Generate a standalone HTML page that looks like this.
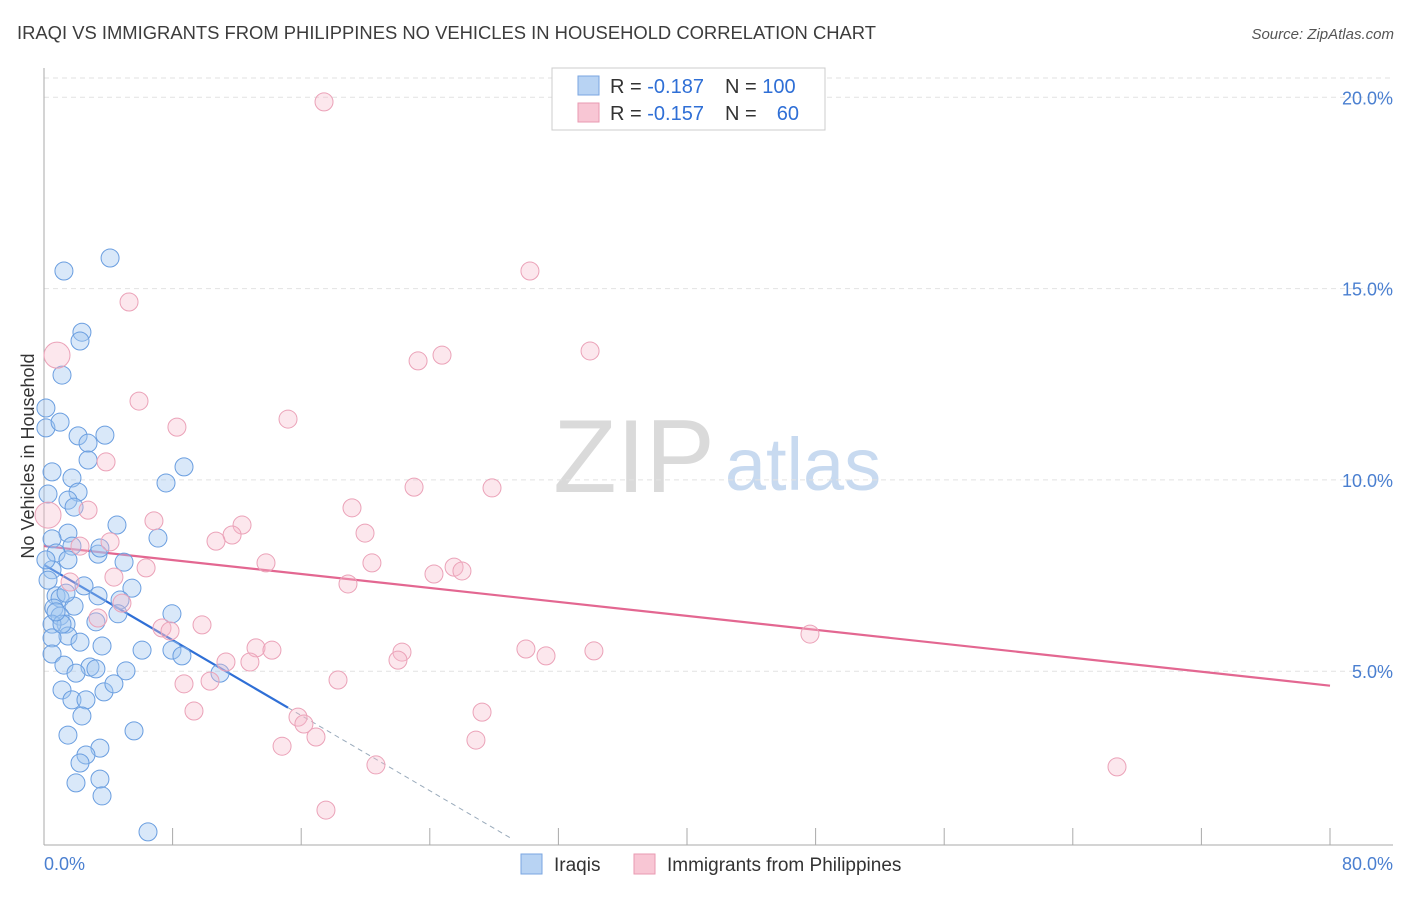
<!DOCTYPE html>
<html><head><meta charset="utf-8"><style>
body{margin:0;background:#fff;font-family:"Liberation Sans",sans-serif;}
svg text{font-family:"Liberation Sans",sans-serif;}
</style></head><body>
<svg id="chart" width="1406" height="892" xmlns="http://www.w3.org/2000/svg">
<text x="17" y="39" font-size="18.3" fill="#3c3c3c" textLength="859" lengthAdjust="spacingAndGlyphs">IRAQI VS IMMIGRANTS FROM PHILIPPINES NO VEHICLES IN HOUSEHOLD CORRELATION CHART</text>
<text x="1394" y="39" font-size="15" fill="#555" font-style="italic" text-anchor="end">Source: ZipAtlas.com</text>
<text transform="translate(34,456) rotate(-90)" font-size="18" fill="#333" text-anchor="middle">No Vehicles in Household</text>
<g>
<text x="634" y="492" font-size="104" fill="#dadada" font-family="Liberation Serif" text-anchor="middle">ZIP</text>
<text x="803" y="490" font-size="74" fill="#c8daf0" text-anchor="middle">atlas</text>
</g>
<g id="grid"></g><g id="axes"></g><g id="lines"></g><g id="pts"></g>
<g>
<rect x="552" y="68" width="273" height="62" fill="#fff" stroke="#ccc"/>
<rect x="578" y="76" width="21" height="19" fill="#b8d3f3" stroke="#7aa6e0"/>
<rect x="578" y="103" width="21" height="19" fill="#f8c6d4" stroke="#e99ab2"/>
<text x="610" y="93" font-size="20" fill="#333">R = <tspan fill="#2f6fd6">-0.187</tspan></text>
<text x="725" y="93" font-size="20" fill="#333">N = <tspan fill="#2f6fd6">100</tspan></text>
<text x="610" y="120" font-size="20" fill="#333">R = <tspan fill="#2f6fd6">-0.157</tspan></text>
<text x="725" y="120" font-size="20" fill="#333">N = </text>
<text x="799" y="120" font-size="20" fill="#2f6fd6" text-anchor="end">60</text>
</g>
<g>
<rect x="521" y="854" width="21" height="20" fill="#b8d3f3" stroke="#7aa6e0"/>
<text x="554" y="871" font-size="19" fill="#333">Iraqis</text>
<rect x="634" y="854" width="21" height="20" fill="#f8c6d4" stroke="#e99ab2"/>
<text x="667" y="871" font-size="19" fill="#333">Immigrants from Philippines</text>
</g>
</svg>
<script>
const yTicks=[5,10,15,20];
const yTickLabels=["5.0%","10.0%","15.0%","20.0%"];
const blueX=[4.11,1.24,2.36,2.24,1.12,0.12,0.12,1.00,2.12,2.74,3.79,2.74,8.71,7.59,0.50,1.74,0.25,2.12,1.49,1.87,4.54,1.49,7.09,0.50,1.74,3.36,0.75,1.49,4.98,0.50,2.49,5.47,0.75,3.36,4.73,1.00,0.62,1.87,7.96,4.60,1.00,1.37,0.50,3.23,1.49,0.50,2.24,3.61,6.10,7.96,8.58,0.50,1.24,2.86,3.23,5.10,1.99,10.95,1.12,3.73,4.35,1.74,2.61,2.36,5.60,1.49,3.48,2.61,2.24,1.99,3.48,3.61,6.47,0.12,3.48,1.12,1.37,0.25,0.75];
const blueY=[15.80,15.46,13.86,13.63,12.74,11.88,11.36,11.51,11.15,10.96,11.17,10.52,10.34,9.92,10.21,10.05,9.63,9.68,9.47,9.29,8.82,8.61,8.48,8.46,8.27,8.06,8.09,7.91,7.85,7.65,7.23,7.17,6.97,6.97,6.86,6.91,6.65,6.70,6.50,6.50,6.44,6.23,6.23,6.29,5.92,5.87,5.76,5.66,5.55,5.55,5.40,5.45,5.16,5.11,5.06,5.01,4.95,4.95,4.51,4.46,4.67,4.25,4.25,3.83,3.44,3.33,2.99,2.81,2.60,2.08,2.18,1.74,0.80,7.91,8.22,6.23,7.04,7.38,6.55];
const pinkX=[17.42,30.23,5.29,0.81,33.97,24.76,23.27,5.91,15.18,8.27,3.86,23.02,27.87,19.16,2.74,0.25,6.84,12.32,19.97,11.70,10.70,2.24,4.11,13.81,6.35,20.40,25.51,26.00,24.26,4.35,18.91,1.62,4.85,3.36,9.83,7.34,7.84,47.65,29.98,31.23,34.21,13.19,22.27,22.02,14.18,11.32,12.81,8.71,10.33,18.29,9.33,15.80,16.17,16.92,27.25,26.87,14.81,20.65,66.75,17.54];
const pinkY=[19.88,15.46,14.65,13.26,13.37,13.26,13.11,12.06,11.59,11.38,10.47,9.81,9.79,9.27,9.21,9.08,8.93,8.82,8.61,8.56,8.40,8.27,8.38,7.83,7.70,7.83,7.72,7.62,7.54,7.46,7.28,7.33,6.78,6.39,6.21,6.13,6.05,5.97,5.58,5.40,5.53,5.61,5.50,5.29,5.55,5.24,5.24,4.67,4.74,4.77,3.96,3.80,3.62,3.28,3.93,3.20,3.04,2.55,2.50,1.37];
const blueFit=[7.78,-0.246];
const pinkFit=[8.27,-0.0456];
const ns="http://www.w3.org/2000/svg";
const X=v=>44+v*16.075, Y=v=>862.5-v*38.26;
function mk(p,t,a){const e=document.createElementNS(ns,t);for(const k in a)e.setAttribute(k,a[k]);p.appendChild(e);return e;}
const grid=document.getElementById('grid'),axes=document.getElementById('axes'),lines=document.getElementById('lines'),pts=document.getElementById('pts');
mk(grid,'line',{x1:44,x2:1393,y1:78,y2:78,stroke:'#e2e2e2','stroke-dasharray':'5,4'});
yTicks.forEach((t,i)=>{
 const g=mk(grid,'line',{x1:44,x2:1393,y1:Y(t),y2:Y(t),stroke:'#e2e2e2','stroke-dasharray':'5,4'});
 
 
 const tx=mk(axes,'text',{x:1393,y:Y(t)+7,'font-size':18,fill:'#4a7fd0','text-anchor':'end'});tx.textContent=yTickLabels[i];
 
 
});
mk(axes,'line',{x1:44,x2:44,y1:68,y2:845,stroke:'#aaa'});
mk(axes,'line',{x1:44,x2:1393,y1:845,y2:845,stroke:'#aaa'});
for(let k=1;k<=10;k++){mk(axes,'line',{x1:X(k*8),x2:X(k*8),y1:828,y2:845,stroke:'#aaa'});}
let t0=mk(axes,'text',{x:44,y:870,'font-size':18,fill:'#4a7fd0'});t0.textContent='0.0%';


let t1=mk(axes,'text',{x:1393,y:870,'font-size':18,fill:'#4a7fd0','text-anchor':'end'});t1.textContent='80.0%';


blueX.forEach((x,i)=>{const c=mk(pts,'circle',{cx:X(x),cy:Y(blueY[i]),r:9,fill:'rgba(160,198,240,0.4)',stroke:'#6a9ee0','stroke-width':1});
 
 });
pinkX.forEach((x,i)=>{const big=(i==3||i==15);const c=mk(pts,'circle',{cx:X(x),cy:Y(pinkY[i]),r:big?13:9,fill:'rgba(247,185,202,0.35)',stroke:'#eba2b8','stroke-width':1});
 
 });
const bEnd=15.18;
let l1=mk(lines,'line',{x1:X(0),y1:Y(blueFit[0]),x2:X(bEnd),y2:Y(blueFit[0]+blueFit[1]*bEnd),stroke:'#2f6fd6','stroke-width':2.2});


let l2=mk(lines,'line',{x1:X(bEnd),y1:Y(blueFit[0]+blueFit[1]*bEnd),x2:X(29.1),y2:Y(blueFit[0]+blueFit[1]*29.1),stroke:'#9ab','stroke-width':1,'stroke-dasharray':'5,4'});


let l3=mk(lines,'line',{x1:X(0),y1:Y(pinkFit[0]),x2:X(80),y2:Y(pinkFit[0]+pinkFit[1]*80),stroke:'#e36791','stroke-width':2.2});


</script>
</body></html>
